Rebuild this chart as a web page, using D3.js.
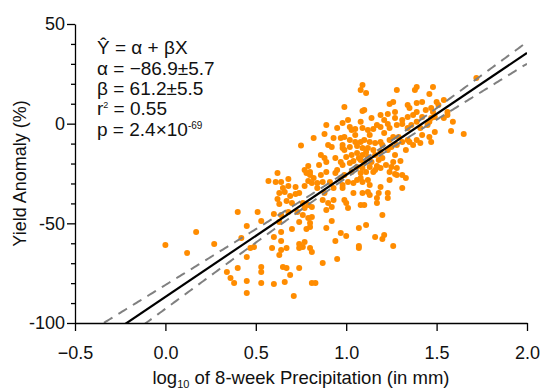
<!DOCTYPE html>
<html>
<head>
<meta charset="utf-8">
<script src="https://cdn.jsdelivr.net/npm/d3@7"></script>
<style>
  body { margin: 0; background: #fff; }
  svg text { font-family: "Liberation Sans", Arial, Helvetica, sans-serif; fill: #111; }
</style>
</head>
<body>
<svg id="chart" width="542" height="390"></svg>
<script>
// log10 of 8-week precipitation (x) and yield anomaly in % (y)
const precipLog = [
  0.75, 0.79, 0.77, 0.78, 0.80, 0.81, 0.79, 0.62, 0.57, 0.61,
  0.64, 0.68, 0.68, 0.65, 0.72, 0.74, 0.72, 0.66, 0.69, 0.63,
  0.62, 0.67, 0.70, 0.63, 0.76, 0.79, 0.81, 0.77, 0.51, 0.60,
  0.64, 0.63, 0.68, 0.73, 0.76, 0.74, 0.79, 0.80, 0.78, 0.45,
  0.53, 0.64, 0.70, 0.60, 0.40, 0.17, 0.00, 0.12, 0.27, 0.42,
  0.47, 0.49, 0.45, 0.59, 0.64, 0.67, 0.64, 0.63, 0.74, 0.76,
  0.74, 0.77, 0.80, 0.34, 0.36, 0.38, 0.40, 0.45, 0.45, 0.53,
  0.53, 0.53, 0.60, 0.65, 0.67, 0.69, 0.66, 0.74, 0.71, 0.81,
  1.09, 1.08, 1.11, 1.28, 1.39, 1.38, 1.48, 1.46, 1.72, 1.26,
  1.24, 1.34, 1.27, 1.35, 1.39, 1.42, 1.47, 1.50, 1.54, 1.51,
  0.99, 1.09, 1.10, 1.19, 1.23, 1.27, 1.31, 1.34, 1.37, 1.39,
  1.42, 1.44, 1.48, 1.47, 1.49, 1.01, 0.98, 0.95, 1.02, 1.05,
  1.09, 1.12, 1.15, 1.17, 1.19, 1.23, 1.24, 1.21, 1.28, 1.31,
  1.34, 1.36, 1.39, 1.41, 1.45, 1.46, 1.56, 1.59, 1.56, 1.54,
  1.49, 1.46, 1.47, 1.42, 1.41, 1.37, 1.35, 1.34, 1.39, 1.58,
  1.65, 0.82, 0.88, 0.90, 0.92, 0.86, 0.88, 0.89, 0.94, 0.97,
  0.99, 1.02, 1.05, 1.08, 1.10, 1.13, 1.16, 1.19, 0.98, 1.02,
  1.06, 1.09, 1.12, 1.15, 1.19, 1.23, 1.25, 1.28, 1.31, 1.24,
  1.29, 1.26, 1.00, 1.03, 1.06, 1.09, 1.12, 1.16, 1.18, 1.14,
  1.10, 1.08, 1.04, 1.02, 0.98, 0.97, 1.06, 1.09, 1.13, 1.17,
  1.19, 1.15, 1.11, 1.08, 1.26, 1.25, 1.24, 1.27, 1.30, 1.31,
  1.28, 0.80, 0.82, 0.86, 0.84, 0.87, 0.91, 0.94, 0.95, 0.97,
  0.93, 0.98, 1.01, 1.04, 1.06, 1.08, 1.09, 1.12, 1.13, 1.19,
  1.18, 1.24, 1.28, 1.31, 1.33, 0.84, 0.88, 0.87, 0.90, 0.89,
  0.92, 0.93, 0.98, 0.99, 1.00, 1.01, 1.04, 1.09, 1.08, 1.10,
  1.12, 1.13, 1.17, 1.17, 1.23, 1.23, 0.81, 0.80, 0.92, 0.89,
  0.97, 0.94, 1.00, 1.07, 1.11, 1.20, 1.21, 1.20, 1.16, 1.26,
  1.07, 1.07, 0.81, 0.95, 0.87, 0.83, 0.99, 1.05, 1.13, 1.07,
  1.11, 1.20, 1.22, 1.16, 1.03, 0.99, 1.20, 1.27, 1.33, 1.03,
  0.98, 0.93, 0.89, 1.08, 1.14, 1.21, 0.85, 0.89, 0.77
];
const yieldAnomaly = [
  -11.0, -21.2, -23.2, -24.7, -25.7, -29.8, -28.7, -24.7, -28.7, -29.3,
  -29.3, -27.7, -31.3, -32.3, -31.8, -34.8, -35.3, -34.3, -36.3, -34.8,
  -37.8, -38.8, -39.8, -40.3, -39.8, -40.8, -41.8, -42.3, -44.3, -45.3,
  -45.8, -49.3, -44.3, -44.3, -45.8, -49.3, -47.3, -51.8, -52.8, -51.3,
  -48.8, -54.3, -52.8, -56.9, -44.3, -54.3, -60.9, -64.9, -60.4, -57.4,
  -62.4, -61.9, -66.9, -62.4, -63.4, -62.4, -58.9, -65.9, -60.4, -61.9,
  -62.4, -59.4, -62.4, -74.4, -77.4, -79.9, -72.4, -78.9, -84.9, -71.9,
  -74.4, -79.9, -80.4, -71.9, -72.4, -75.9, -79.4, -72.4, -86.4, -79.9,
  19.4, 16.9, 15.4, 16.9, 18.4, 16.9, 18.4, 14.9, 22.9, 10.9,
  9.9, 9.4, 5.9, 7.9, 10.4, 10.9, 7.9, 10.9, 11.9, 9.4,
  8.4, 6.4, 6.9, 4.4, 4.9, 2.9, 1.9, 3.4, 4.4, 5.9,
  3.4, 6.9, 5.9, 2.9, 3.4, 1.9, 0.3, -2.2, -1.7, -2.7,
  -2.2, -3.2, -2.7, -0.7, -1.7, -0.2, -2.2, -4.7, -0.7, -0.2,
  -2.2, -0.7, 0.9, -2.2, -0.7, 0.9, 5.9, 0.9, 4.4, 2.9,
  -4.2, -6.7, -9.2, -5.7, -9.7, -10.7, -9.2, -8.2, -8.2, -3.7,
  -5.2, -7.2, -5.2, -10.7, -11.7, -15.7, -17.2, -19.2, -17.2, -7.2,
  -6.7, -8.2, -9.2, -9.2, -8.2, -9.2, -9.7, -9.2, -12.2, -11.7,
  -11.2, -12.2, -12.2, -13.2, -14.2, -13.2, -11.7, -10.7, -9.2, -8.2,
  -6.7, -6.7, -16.7, -15.7, -14.7, -15.7, -16.7, -15.7, -18.2, -19.2,
  -19.2, -18.2, -18.7, -19.7, -20.7, -19.2, -21.7, -22.2, -21.7, -21.2,
  -22.2, -24.2, -24.2, -24.7, -19.2, -21.7, -24.2, -25.2, -18.7, -25.7,
  -22.2, -24.2, -27.2, -25.7, -29.8, -29.3, -29.3, -24.7, -23.2, -27.2,
  -32.3, -30.8, -29.3, -29.8, -28.2, -27.2, -29.3, -28.2, -30.8, -31.8,
  -34.8, -28.2, -25.7, -32.3, -27.2, -32.3, -34.8, -38.3, -39.8, -43.3,
  -41.8, -38.3, -32.3, -38.3, -39.8, -42.3, -34.8, -34.8, -40.8, -40.8,
  -34.3, -35.8, -39.8, -37.3, -34.8, -37.3, -46.8, -49.8, -48.8, -52.3,
  -54.8, -58.9, -56.4, -52.3, -50.8, -45.8, -55.8, -57.9, -56.9, -61.4,
  -61.4, -62.4, -64.4, -67.9, -69.9, -79.9, -13.2, -5.7, -5.7, -17.2,
  -14.2, -17.2, -20.7, -23.2, -24.2, -25.7, -10.7, -15.7, -13.2, -3.2,
  -10.7, -7.2, -0.7, 0.9, 2.9, 1.9, -20.7, -24.2, -31.3
];

// regression: Y = alpha + beta X
const alpha = -86.9;
const beta = 61.2;
const betaErr = 5.5;
const meanSe = 1.5;   // half width of band at the mean of X
const meanX = 1.05;

const xTicks = [-0.5, 0.0, 0.5, 1.0, 1.5, 2.0];
const yTicks = [-100, -50, 0, 50];
const yMinorTicks = [-90, -80, -70, -60, -40, -30, -20, -10, 10, 20, 30, 40];

const statLines = ["Ŷ = α + βX", "α = −86.9±5.7", "β = 61.2±5.5"];

const margin = { top: 24, right: 15, bottom: 67, left: 75 };
const W = 542, H = 390;
const plotW = W - margin.left - margin.right;
const plotH = H - margin.top - margin.bottom;

const svg = d3.select('#chart');

const x = d3.scaleLinear().domain([-0.5, 2.0]).range([margin.left, margin.left + plotW]);
const y = d3.scaleLinear().domain([-100, 50]).range([margin.top + plotH, margin.top]);

svg.append('defs').append('clipPath').attr('id', 'plotClip')
  .append('rect')
  .attr('x', margin.left).attr('y', margin.top)
  .attr('width', plotW).attr('height', plotH);

// points
const pts = precipLog.map((d, i) => ({ x: d, y: yieldAnomaly[i] }));
svg.append('g')
  .selectAll('circle')
  .data(pts)
  .enter().append('circle')
  .attr('cx', d => x(d.x))
  .attr('cy', d => y(d.y))
  .attr('r', 3)
  .attr('fill', '#ff8c00');

// fit line + confidence band
const xs = d3.range(-0.5, 2.0001, 0.01);
const fit = v => alpha + beta * v;
const half = v => Math.sqrt(meanSe * meanSe + Math.pow(betaErr * (v - meanX), 2));

const lineGen = d3.line().x(d => x(d[0])).y(d => y(d[1]));
const lines = svg.append('g').attr('clip-path', 'url(#plotClip)');

lines.append('path')
  .datum(xs.map(v => [v, fit(v) + half(v)]))
  .attr('d', lineGen)
  .attr('fill', 'none').attr('stroke', '#808080')
  .attr('stroke-width', 2).attr('stroke-dasharray', '10,7');
lines.append('path')
  .datum(xs.map(v => [v, fit(v) - half(v)]))
  .attr('d', lineGen)
  .attr('fill', 'none').attr('stroke', '#808080')
  .attr('stroke-width', 2).attr('stroke-dasharray', '10,7');
lines.append('path')
  .datum([[-0.5, fit(-0.5)], [2.0, fit(2.0)]])
  .attr('d', lineGen)
  .attr('fill', 'none').attr('stroke', '#000')
  .attr('stroke-width', 2.2);

// axes
svg.append('g')
  .attr('transform', 'translate(0,' + (margin.top + plotH) + ')')
  .call(d3.axisBottom(x).tickValues(xTicks).tickSize(8).tickSizeOuter(0).tickPadding(15)
    .tickFormat(d3.format('.1f')));

const yMinor = svg.append('g')
  .attr('transform', 'translate(' + margin.left + ',0)')
  .call(d3.axisLeft(y).tickValues(yMinorTicks).tickSize(4).tickFormat(''));
yMinor.select('.domain').remove();

svg.append('g')
  .attr('transform', 'translate(' + margin.left + ',0)')
  .call(d3.axisLeft(y).tickValues(yTicks).tickSize(8).tickSizeOuter(0).tickPadding(2)
    .tickFormat(d => d < 0 ? '-' + Math.abs(d) : String(d)));

svg.selectAll('.domain, .tick line').attr('stroke', '#000').attr('stroke-width', 1.3);
svg.selectAll('.tick text')
  .style('font-size', '18px')
  .style('font-family', '"Liberation Sans", Arial, sans-serif')
  .attr('fill', '#111');

// axis titles
const xt = svg.append('text')
  .attr('x', margin.left + plotW / 2)
  .attr('y', 384)
  .attr('text-anchor', 'middle')
  .style('font-size', '18.5px');
xt.append('tspan').text('log');
xt.append('tspan').attr('dy', 4).style('font-size', '11px').text('10');
xt.append('tspan').attr('dy', -4).text(' of 8-week Precipitation (in mm)');

svg.append('text')
  .attr('transform', 'translate(26,' + (margin.top + plotH / 2) + ') rotate(-90)')
  .attr('text-anchor', 'middle')
  .style('font-size', '18px')
  .text('Yield Anomaly (%)');

// stats box
const stats = svg.append('g').attr('transform', 'translate(97,0)');
const base = [54, 74.5, 95, 115, 135.5];
statLines.forEach((s, i) => {
  stats.append('text').attr('y', base[i]).style('font-size', '19px').text(s);
});
const r2 = stats.append('text').attr('y', base[3]).style('font-size', '19px');
r2.append('tspan').text('r');
r2.append('tspan').attr('dy', -7).style('font-size', '9px').text('2');
r2.append('tspan').attr('dy', 7).text(' = 0.55');
const pv = stats.append('text').attr('y', base[4]).style('font-size', '19px');
pv.append('tspan').text('p = 2.4×10');
pv.append('tspan').attr('dy', -7).style('font-size', '10px').text('-69');
</script>
</body>
</html>
